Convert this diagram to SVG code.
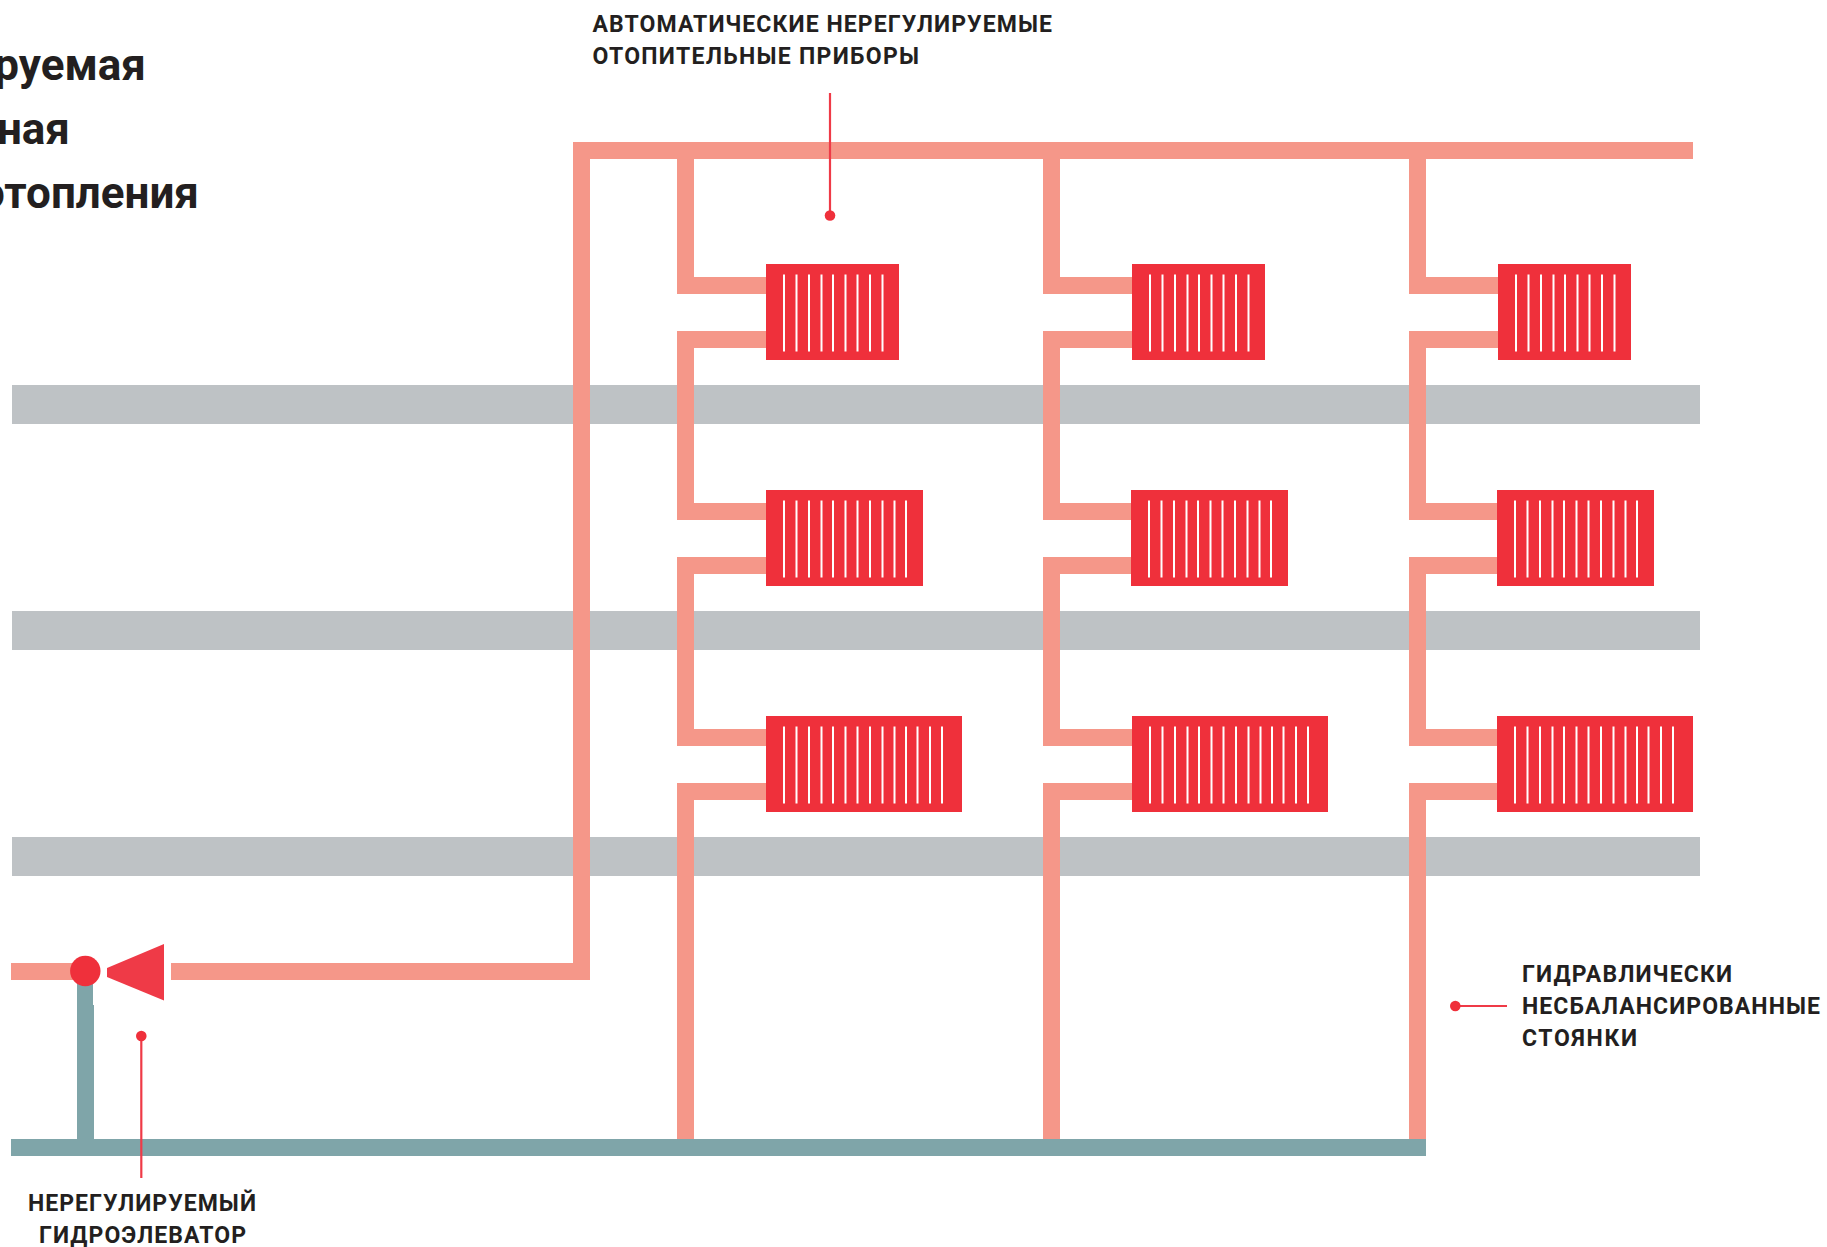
<svg xmlns="http://www.w3.org/2000/svg" width="1827" height="1247" viewBox="0 0 1827 1247">
<style>
.band{fill:#bec2c5}
.hot{fill:none;stroke:#f59789;stroke-width:17;stroke-linejoin:miter}
.cold{fill:#7fa5a9}
.rad{fill:#ef303b}
.slat{fill:none;stroke:#fff;stroke-width:2}
.lead{fill:none;stroke:#ef3a47;stroke-width:2.2}
.dot{fill:#ef303b}
.t{font-family:Roboto,"Noto Sans",sans-serif;font-weight:700;font-size:23px;fill:#231f20}
.h{font-family:Roboto,"Noto Sans",sans-serif;font-weight:700;font-size:44px;fill:#231f20;text-anchor:end}
</style>
<defs>
<path id="s9" class="slat" d="M18 10.5v77M30.5 10.5v77M43 10.5v77M55.5 10.5v77M67 10.5v77M79.5 10.5v77M91.5 10.5v77M104 10.5v77M116.5 10.5v77"/>
<path id="s11" class="slat" d="M18 10.5v77M30.5 10.5v77M43 10.5v77M55.5 10.5v77M67 10.5v77M79.5 10.5v77M91.5 10.5v77M104 10.5v77M116.5 10.5v77M128.5 10.5v77M140 10.5v77"/>
<path id="s14" class="slat" d="M18 10.5v77M30.5 10.5v77M43 10.5v77M55.5 10.5v77M67 10.5v77M79.5 10.5v77M91.5 10.5v77M104 10.5v77M116.5 10.5v77M128.5 10.5v77M140 10.5v77M151.5 10.5v77M164 10.5v77M176 10.5v77"/>
</defs>
<rect width="1827" height="1247" fill="#fff"/>
<g id="floors">
<rect class="band" x="12" y="385" width="1688" height="39"/>
<rect class="band" x="12" y="611" width="1688" height="39"/>
<rect class="band" x="12" y="837" width="1688" height="39"/>
</g>
<g id="connectors">
<path class="cold" d="M77 965H93V1005H94V1139H1426V1156H11V1139H77Z"/>
<path class="hot" d="M11 971.500H85"/>
<path class="hot" d="M171 971.500H581.500V150.500H1693"/>
<path class="hot" d="M685.500 150V285.500H766M766 339.500H685.500V511.500H766M766 565.500H685.500V737.500H766M766 791.500H685.500V1139"/>
<path class="hot" d="M1051.500 150V285.500H1132M1132 339.500H1051.500V511.500H1132M1132 565.500H1051.500V737.500H1132M1132 791.500H1051.500V1139"/>
<path class="hot" d="M1417.500 150V285.500H1498M1498 339.500H1417.500V511.500H1498M1498 565.500H1417.500V737.500H1498M1498 791.500H1417.500V1139"/>
</g>
<g id="rad-1-1"><rect class="rad" x="766" y="264" width="133" height="96"/><use href="#s9" x="766" y="264"/></g>
<g id="rad-1-2"><rect class="rad" x="766" y="490" width="157" height="96"/><use href="#s11" x="766" y="490"/></g>
<g id="rad-1-3"><rect class="rad" x="766" y="716" width="196" height="96"/><use href="#s14" x="766" y="716"/></g>
<g id="rad-2-1"><rect class="rad" x="1132" y="264" width="133" height="96"/><use href="#s9" x="1132" y="264"/></g>
<g id="rad-2-2"><rect class="rad" x="1131" y="490" width="157" height="96"/><use href="#s11" x="1131" y="490"/></g>
<g id="rad-2-3"><rect class="rad" x="1132" y="716" width="196" height="96"/><use href="#s14" x="1132" y="716"/></g>
<g id="rad-3-1"><rect class="rad" x="1498" y="264" width="133" height="96"/><use href="#s9" x="1498" y="264"/></g>
<g id="rad-3-2"><rect class="rad" x="1497" y="490" width="157" height="96"/><use href="#s11" x="1497" y="490"/></g>
<g id="rad-3-3"><rect class="rad" x="1497" y="716" width="196" height="96"/><use href="#s14" x="1497" y="716"/></g>
<g id="elevator">
<circle class="dot" cx="85.300" cy="971" r="15.200"/>
<polygon points="107,968 164,944 164,1000.500 107,977" fill="#ef3a47"/>
</g>
<g id="label-radiators">
<path class="lead" d="M830 93V215"/><circle class="dot" cx="830" cy="215.500" r="5.300"/>
<text class="t" x="592.500" y="31.500" textLength="459.500" lengthAdjust="spacing">АВТОМАТИЧЕСКИЕ НЕРЕГУЛИРУЕМЫЕ</text>
<text class="t" x="592.500" y="63.500" textLength="326.500" lengthAdjust="spacing">ОТОПИТЕЛЬНЫЕ ПРИБОРЫ</text>
</g>
<g id="label-risers">
<path class="lead" d="M1455 1006H1507"/><circle class="dot" cx="1455.300" cy="1006" r="5.300"/>
<text class="t" x="1522" y="982" textLength="210" lengthAdjust="spacing">ГИДРАВЛИЧЕСКИ</text>
<text class="t" x="1522" y="1014" textLength="298" lengthAdjust="spacing">НЕСБАЛАНСИРОВАННЫЕ</text>
<text class="t" x="1522" y="1046" textLength="115" lengthAdjust="spacing">СТОЯНКИ</text>
</g>
<g id="label-elevator">
<path class="lead" d="M141.300 1036V1178"/><circle class="dot" cx="141.300" cy="1036" r="5.300"/>
<text class="t" x="28" y="1210.700" textLength="228" lengthAdjust="spacing">НЕРЕГУЛИРУЕМЫЙ</text>
<text class="t" x="39" y="1243" textLength="207" lengthAdjust="spacing">ГИДРОЭЛЕВАТОР</text>
</g>
<g id="title">
<text class="h" x="146" y="80">руемая</text>
<text class="h" x="70" y="144">ная</text>
<text class="h" x="199" y="208">отопления</text>
</g>
</svg>
